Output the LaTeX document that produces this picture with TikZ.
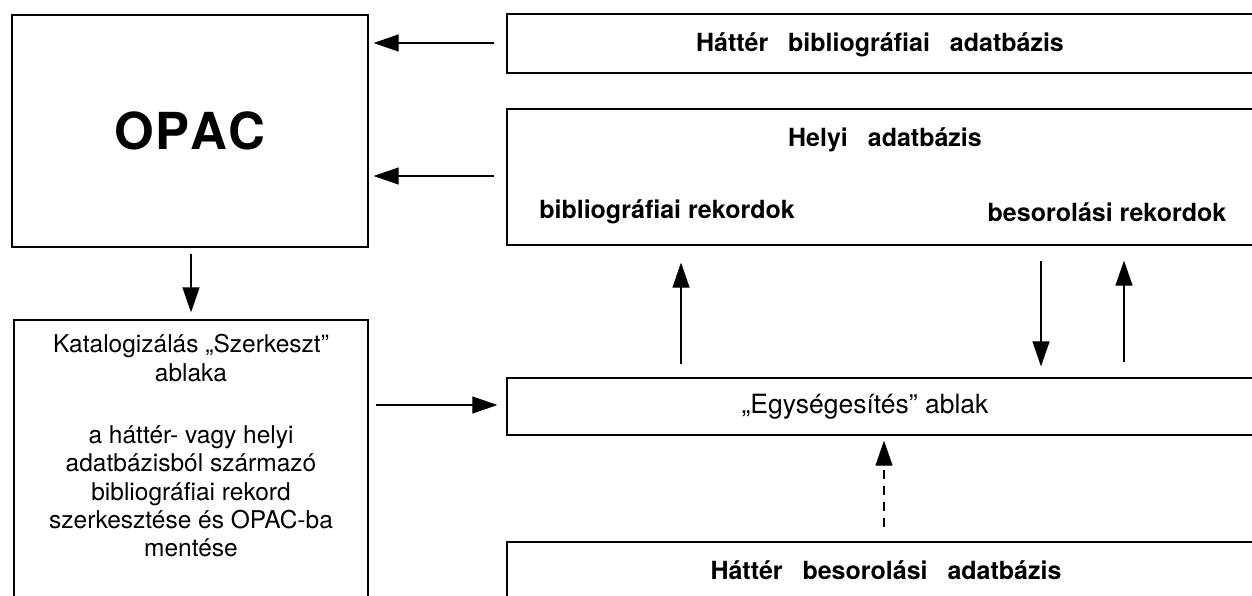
\documentclass[tikz,border=0pt]{standalone}
\usepackage{fontspec}
\setmainfont{TeX Gyre Heros}
\usetikzlibrary{arrows.meta}
\tikzset{
  box/.style={draw, line width=1.2pt, rectangle, inner sep=0pt},
  boldlbl/.style={font=\fontsize{25}{28}\selectfont\bfseries, inner sep=0pt},
  reglbl/.style={font=\fontsize{24.5}{28.4}\selectfont, inner sep=0pt},
  conn/.style={line width=1.1pt, -{Triangle[length=25pt,width=17pt]}},
  dconn/.style={conn, dash pattern=on 9pt off 7pt},
}
\newcommand\wgap{\ \hspace{13pt}}
\begin{document}
\begin{tikzpicture}[x=1pt,y=-1pt]
\useasboundingbox (0,0) rectangle (1252,595);
\clip (0,0) rectangle (1252,595);
% boxes
\node[box, minimum width=356pt, minimum height=232pt] (opac) at (190,131)
  {\fontsize{51}{54}\selectfont\bfseries O\kern1ptP\kern1ptA\kern1ptC};
\node[box, minimum width=754pt, minimum height=59pt] (hbib) at (884,43.5) {};
\node[box, minimum width=754pt, minimum height=136pt] (helyi) at (884,177) {};
\node[box, minimum width=354pt, minimum height=300pt] (kat) at (191,470) {};
\node[box, minimum width=754pt, minimum height=57pt] (egys) at (884,406.5) {};
\node[box, minimum width=754pt, minimum height=76pt] (hbes) at (884,580) {};
% labels
\node[boldlbl] (hbibt) at (880,45) {Háttér\wgap bibliográfiai\wgap adatbázis};
\node[boldlbl] (helyit) at (885,140) {Helyi\wgap adatbázis};
\node[boldlbl] (bibrek) at (667,212) {bibliográfiai rekordok};
\node[boldlbl] (besrek) at (1107,212) {besorolási rekordok};
\node[boldlbl] (hbest) at (886,570) {Háttér\wgap besorolási\wgap adatbázis};
\node[reglbl, font=\fontsize{26.5}{30}\selectfont] (egyst) at (865,407) {„Egységesítés” ablak};
\node[reglbl, align=center] (katt) at (191,446)
  {Katalogizálás „Szerkeszt”\\ ablaka\\[33.6pt]
   a háttér- vagy helyi\\ adatbázisból származó\\ bibliográfiai rekord\\
   szerkesztése és OPAC-ba\\ mentése};
% x positions of vertical connectors
\coordinate (xa) at (681,0);
\coordinate (xb) at (1041,0);
\coordinate (xc) at (1124,0);
\coordinate (xd) at (884,0);
\coordinate (ya) at (0,43);
\coordinate (yb) at (0,176);
\coordinate (yc) at (0,405);
% connectors
\draw[conn, shorten <=12pt, shorten >=5pt] (hbib.west |- ya) -- (opac.east |- ya);
\draw[conn, shorten <=12pt, shorten >=5pt] (helyi.west |- yb) -- (opac.east |- yb);
\draw[conn, shorten <=6pt, shorten >=7pt] (opac.south -| kat.north) -- (kat.north);
\draw[conn, shorten <=7pt, shorten >=9pt] (kat.east |- yc) -- (egys.west |- yc);
\draw[conn, shorten <=13pt, shorten >=17pt] (egys.north -| xa) -- (helyi.south -| xa);
\draw[conn, shorten <=15pt, shorten >=11pt] (helyi.south -| xb) -- (egys.north -| xb);
\draw[conn, shorten <=15pt, shorten >=15pt] (egys.north -| xc) -- (helyi.south -| xc);
\draw[dconn, shorten <=14pt, shorten >=5pt] (hbes.north -| xd) -- (egys.south -| xd);
\end{tikzpicture}
\end{document}
